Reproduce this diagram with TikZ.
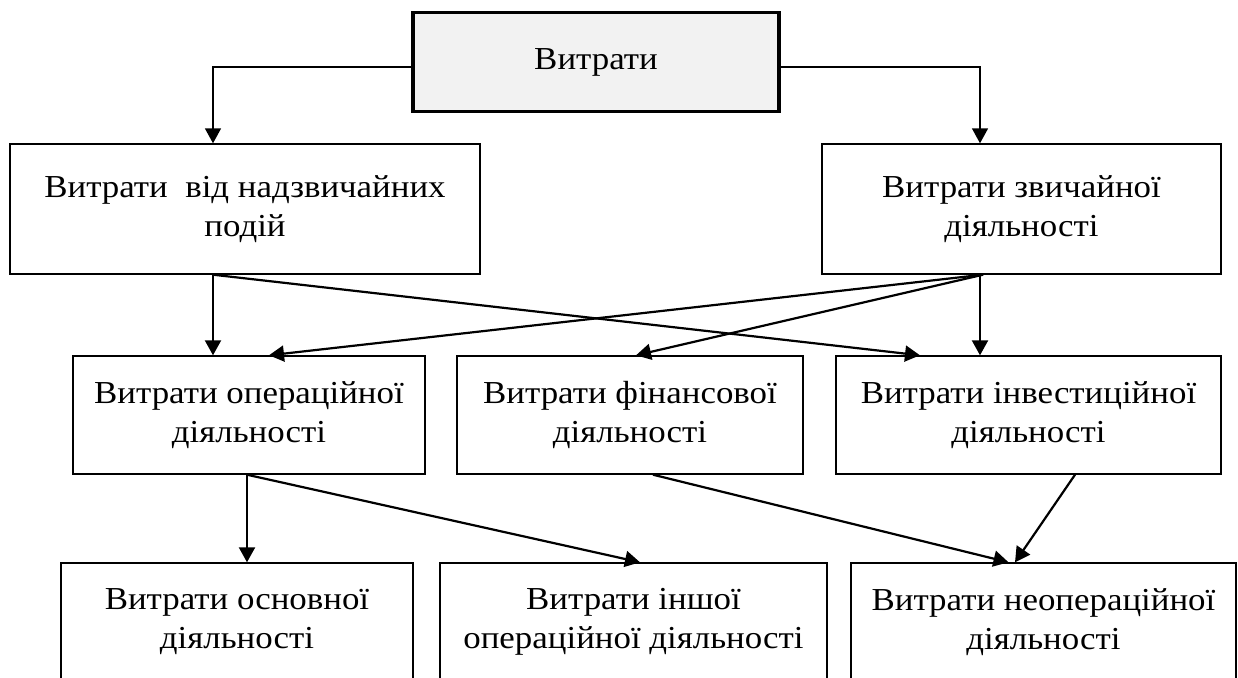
\documentclass[tikz,border=0pt]{standalone}
\usepackage{fontspec}
\setmainfont{Liberation Serif}[FakeStretch=1.09]
\usetikzlibrary{arrows.meta,positioning,calc}
\definecolor{topgray}{HTML}{F2F2F2}
\tikzset{
  box/.style={draw, rectangle, line width=1.4pt, inner sep=0pt, align=center,
    minimum height=118pt, font=\fontsize{32}{39}\selectfont},
  topbox/.style={box, line width=3.4pt, fill=topgray, minimum width=366pt, minimum height=99pt},
  arr/.style={-{Triangle[length=15pt,width=16pt]}, line width=2.2pt},
  thinarr/.style={arr, line width=1.5pt}
}

\begin{document}
\begin{tikzpicture}[x=1pt,y=-1pt]
\useasboundingbox (0,0) rectangle (1238,677);
\clip (0,0) rectangle (1238,677);
% first level
\node[topbox] (cost) at (596,62) {Витрати};
\node[box, minimum width=470pt, minimum height=130pt] (extra) at (245,209) {Витрати\ \ від надзвичайних\\подій};
\node[box, minimum width=399pt, minimum height=130pt] (usual) at (1021.5,209) {Витрати звичайної\\діяльності};
% second level
\node[box, minimum width=352pt] (oper) at (249,415) {Витрати операційної\\діяльності};
\node[box, minimum width=346pt] (fin) at (630,415) {Витрати фінансової\\діяльності};
\node[box, minimum width=385pt] (inv) at (1028.5,415) {Витрати інвестиційної\\діяльності};
% third level, cut by the page
\node[box, minimum width=352pt] (main) at (237,622) {Витрати основної\\діяльності};
\node[box, minimum width=387pt] (other) at (633.5,622) {Витрати іншої\\операційної діяльності};
\node[box, minimum width=385pt] (nonop) at (1043.5,622) {Витрати неопераційної\\діяльності};

\draw[thinarr] ([yshift=-5pt]cost.west) -| ([xshift=-32pt]extra.north);
\draw[thinarr] ([yshift=-5pt]cost.east) -| ([xshift=-41.5pt]usual.north);

\draw[arr] ([xshift=-32pt]extra.south) -- ([xshift=-32pt]extra.south |- oper.north);
\draw[arr] ([xshift=-32pt]extra.south) -- ([xshift=-108.5pt]inv.north);
\draw[arr] ([xshift=-38.5pt]usual.south) -- ([xshift=20pt]oper.north);
\draw[arr] ([xshift=-38.5pt]usual.south) -- ([xshift=6pt]fin.north);
\draw[arr] ([xshift=-41.5pt]usual.south) -- ([xshift=-41.5pt]usual.south |- inv.north);

\draw[arr] ([xshift=-2pt]oper.south) -- ([xshift=-2pt]oper.south |- main.north);
\draw[arr] ([xshift=-2pt]oper.south) -- ([xshift=6.5pt]other.north);
\draw[arr] ([xshift=23pt]fin.south) -- ([xshift=-35pt]nonop.north);
\draw[arr] ([xshift=46.5pt]inv.south) -- ([xshift=-28.5pt]nonop.north);
\end{tikzpicture}
\end{document}
